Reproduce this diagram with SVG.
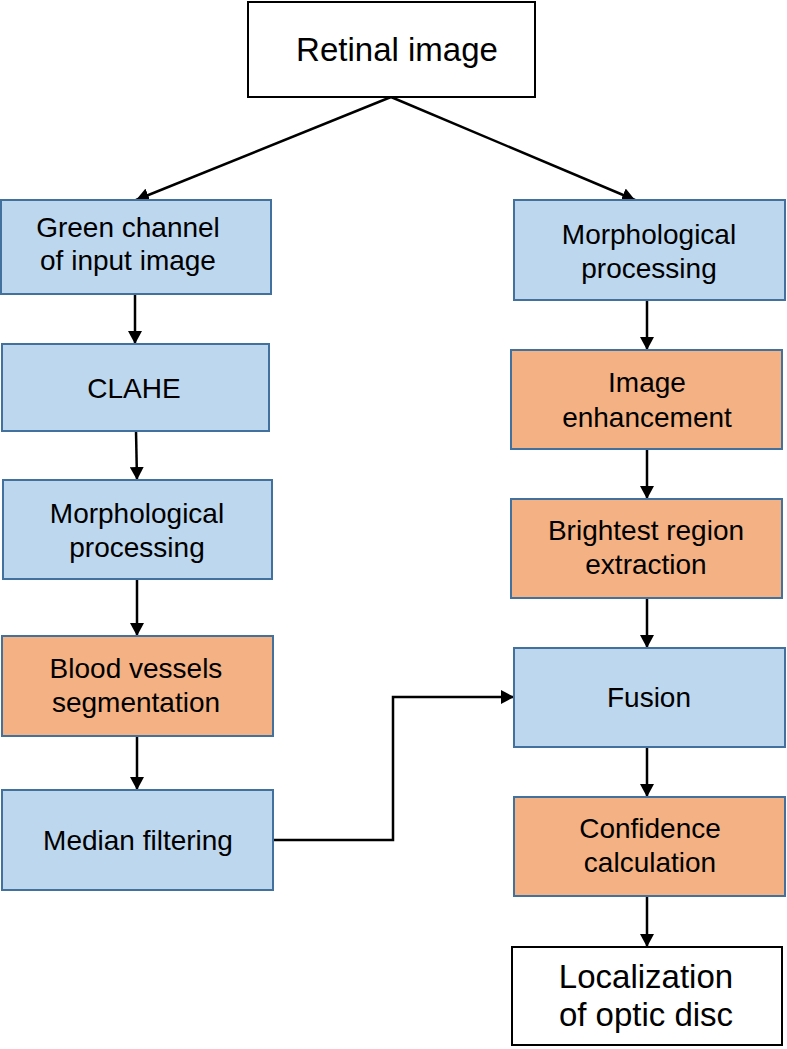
<svg xmlns="http://www.w3.org/2000/svg" width="787" height="1049" viewBox="0 0 787 1049">
<defs>
<marker id="arr" viewBox="0 0 13 14" refX="13" refY="7" markerWidth="13" markerHeight="14" markerUnits="userSpaceOnUse" orient="auto">
<path d="M0,0 L13,7 L0,14 Z" fill="#000"/>
</marker>
<style>
.blue{fill:#BDD7EE;stroke:#41719C;stroke-width:2}
.orange{fill:#F4B183;stroke:#41719C;stroke-width:2}
.plain{fill:#fff;stroke:#000;stroke-width:2}
text{font-family:"Liberation Sans",Arial,sans-serif;fill:#000;text-anchor:middle}
.t{font-size:28px}
.tl{font-size:33px}
.c{fill:none;stroke:#000;stroke-width:2.5;marker-end:url(#arr)}
</style>
</defs>
<rect width="787" height="1049" fill="#fff"/>
<g id="connectors">
<path class="c" d="M391,97 L136,200"/>
<path class="c" d="M391,97 L635,200"/>
<path class="c" d="M135,294 L135,344"/>
<path class="c" d="M136,431 L137,480"/>
<path class="c" d="M137,579 L137,636"/>
<path class="c" d="M137,736 L137,790"/>
<path class="c" d="M273,840 L393,840 L393,697 L514,697"/>
<path class="c" d="M647,300 L647,350"/>
<path class="c" d="M647,449 L647,499"/>
<path class="c" d="M647,598 L647,648"/>
<path class="c" d="M647,747 L647,797"/>
<path class="c" d="M647,896 L647,947"/>
</g>
<g id="retinal">
<rect class="plain" x="248" y="2" width="287" height="95"/>
<text class="tl" x="397" y="61">Retinal image</text>
</g>
<g id="green">
<rect class="blue" x="1" y="200" width="270" height="94"/>
<text class="t" x="128" y="237">Green channel</text>
<text class="t" x="128" y="270">of input image</text>
</g>
<g id="clahe">
<rect class="blue" x="2" y="344" width="267" height="87"/>
<text class="t" x="134" y="398">CLAHE</text>
</g>
<g id="morph-left">
<rect class="blue" x="3" y="480" width="269" height="99"/>
<text class="t" x="137" y="523">Morphological</text>
<text class="t" x="137" y="557">processing</text>
</g>
<g id="blood">
<rect class="orange" x="2" y="636" width="271" height="100"/>
<text class="t" x="136" y="678">Blood vessels</text>
<text class="t" x="136" y="712">segmentation</text>
</g>
<g id="median">
<rect class="blue" x="2" y="790" width="271" height="100"/>
<text class="t" x="138" y="850">Median filtering</text>
</g>
<g id="morph-right">
<rect class="blue" x="514" y="200" width="271" height="100"/>
<text class="t" x="649" y="244">Morphological</text>
<text class="t" x="649" y="278">processing</text>
</g>
<g id="enhance">
<rect class="orange" x="511" y="350" width="271" height="99"/>
<text class="t" x="647" y="392">Image</text>
<text class="t" x="647" y="427">enhancement</text>
</g>
<g id="brightest">
<rect class="orange" x="511" y="499" width="271" height="99"/>
<text class="t" x="646" y="540">Brightest region</text>
<text class="t" x="646" y="574">extraction</text>
</g>
<g id="fusion">
<rect class="blue" x="514" y="648" width="271" height="99"/>
<text class="t" x="649" y="707">Fusion</text>
</g>
<g id="confidence">
<rect class="orange" x="514" y="797" width="271" height="99"/>
<text class="t" x="650" y="838">Confidence</text>
<text class="t" x="650" y="872">calculation</text>
</g>
<g id="localization">
<rect class="plain" x="512" y="947" width="270" height="98"/>
<text class="tl" x="646" y="988">Localization</text>
<text class="tl" x="646" y="1026">of optic disc</text>
</g>
</svg>
